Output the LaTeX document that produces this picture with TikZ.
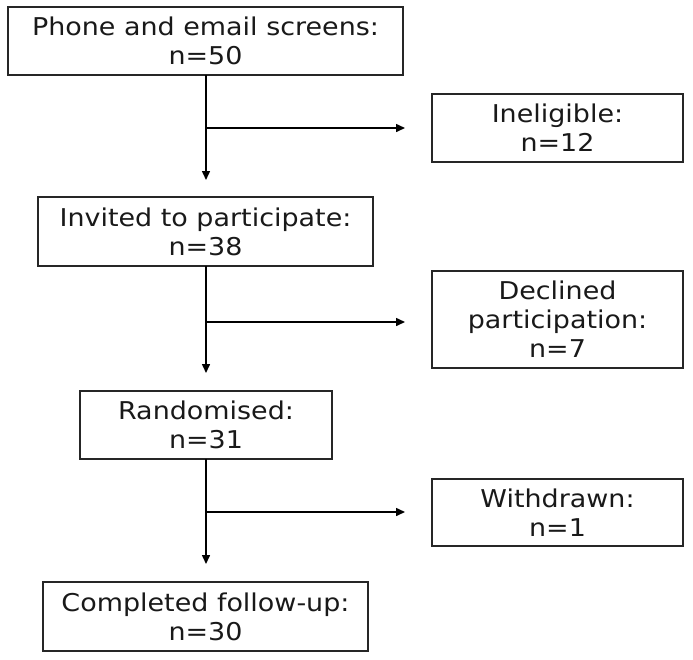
\documentclass[tikz,border=0pt]{standalone}
\usepackage{fontspec}
\setmainfont[FakeStretch=1.1]{DejaVu Sans}
\usetikzlibrary{arrows.meta}
\begin{document}
\begin{tikzpicture}[x=1pt,y=-1pt,
  box/.style={draw=black!85, line width=1.3pt, rectangle, inner sep=0pt, align=center,
    font=\fontsize{24.5}{29}\selectfont, text=black!90},
  flow/.style={draw=black, line width=1.5pt, -{Triangle[length=9pt,width=8pt]}}]
\useasboundingbox (0,0) rectangle (693,659);
\node[box, minimum width=395pt, minimum height=68pt] (screen) at (205.5,41) {Phone and email screens:\\n=50};
\node[box, minimum width=335pt, minimum height=69pt] (invited) at (205.5,231.5) {Invited to participate:\\n=38};
\node[box, minimum width=252pt, minimum height=68pt] (rand) at (206,425) {Randomised:\\n=31};
\node[box, minimum width=325pt, minimum height=69pt] (done) at (205.5,616.5) {Completed follow-up:\\n=30};
\node[box, minimum width=251pt, minimum height=68pt] (inel) at (557.5,128) {Ineligible:\\n=12};
\node[box, minimum width=251pt, minimum height=97pt] (decl) at (557.5,319.5) {Declined\\participation:\\n=7};
\node[box, minimum width=251pt, minimum height=67pt] (withd) at (557.5,512.5) {Withdrawn:\\n=1};
\coordinate (s1) at (206,75);
\coordinate (t1) at (206,180);
\coordinate (b1) at (206,128);
\coordinate (h1) at (405,128);
\coordinate (s2) at (206,266);
\coordinate (t2) at (206,373);
\coordinate (b2) at (206,322);
\coordinate (h2) at (405,322);
\coordinate (s3) at (206,459);
\coordinate (t3) at (206,564);
\coordinate (b3) at (206,512);
\coordinate (h3) at (405,512);
\draw[flow] (s1) -- (t1);
\draw[flow] (b1) -- (h1);
\draw[flow] (s2) -- (t2);
\draw[flow] (b2) -- (h2);
\draw[flow] (s3) -- (t3);
\draw[flow] (b3) -- (h3);
\end{tikzpicture}
\end{document}
